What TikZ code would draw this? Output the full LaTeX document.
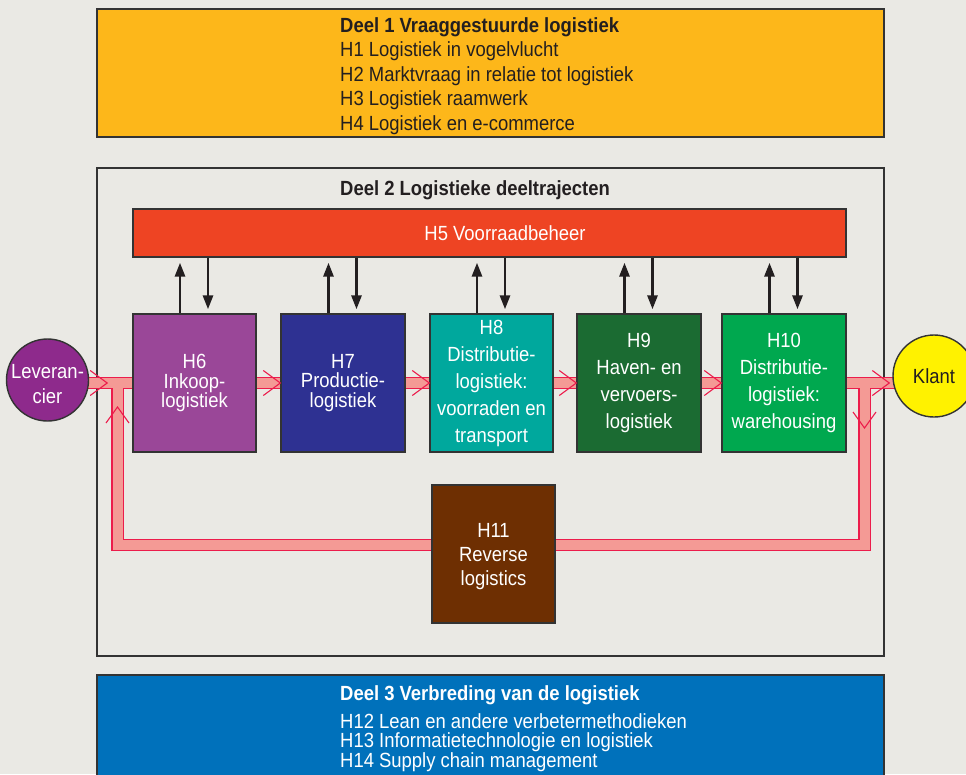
\documentclass[tikz,border=0pt]{standalone}
\usepackage{fontspec}
\setmainfont{Liberation Sans}[FakeStretch=0.9]
\usetikzlibrary{arrows.meta,calc}

\definecolor{paper}{HTML}{EAE9E4}
\definecolor{edge}{HTML}{333333}
\definecolor{ink}{HTML}{231F20}
\definecolor{deeleen}{HTML}{FDB71A}
\definecolor{deeldrie}{HTML}{0071BB}
\definecolor{voorraad}{HTML}{EE4423}
\definecolor{inkoop}{HTML}{9A4798}
\definecolor{productie}{HTML}{2E3192}
\definecolor{distri}{HTML}{00A89D}
\definecolor{haven}{HTML}{1B6B32}
\definecolor{warehouse}{HTML}{00A84F}
\definecolor{reverse}{HTML}{6E2F02}
\definecolor{lever}{HTML}{8E2A8C}
\definecolor{klantgeel}{HTML}{FFF200}
\definecolor{bandred}{HTML}{EC1C4B}
\definecolor{bandpink}{HTML}{F49A95}

\begin{document}
\begin{tikzpicture}[x=1pt,y=-1pt,
  panel/.style={draw=edge,line width=1.4pt,inner sep=0pt},
  chap/.style={panel,minimum height=138,text=white,align=center},
  party/.style={circle,draw=edge,line width=1.4pt,minimum size=82,inner sep=0pt,
    font=\fontsize{20.5}{25}\selectfont},
  link/.style={draw=ink,line width=2.8pt,-{Triangle[length=14,width=10]}},
  chev/.style={draw=bandred,line width=1.1pt},
  chevR/.pic={\draw[chev] (-17,-12.5) -- (0,0) -- (-17,12.5);},
  chevD/.pic={\draw[chev] (-11.5,-16) -- (0,0) -- (11.5,-16);},
  chevU/.pic={\draw[chev] (-11.5,16) -- (0,0) -- (11.5,16);},
]
\useasboundingbox (0,0) rectangle (966,774);
\fill[paper] (0,0) rectangle (966,774);

% Deel 1
\node[panel,fill=deeleen,minimum width=787,minimum height=128] (deel1) at (490.5,73) {};
\node[anchor=north west,inner sep=0pt,align=left,text=ink,font=\fontsize{20.5}{24.5}\selectfont]
  (deel1txt) at (340,17.3)
  {\textbf{Deel 1 Vraaggestuurde logistiek}\\H1 Logistiek in vogelvlucht\\
   H2 Marktvraag in relatie tot logistiek\\H3 Logistiek raamwerk\\H4 Logistiek en e-commerce};

% Deel 2 frame
\node[panel,fill=paper,minimum width=787,minimum height=488] (deel2) at (490.5,412) {};
\node[anchor=base west,inner sep=0pt,text=ink,font=\fontsize{20.5}{24.5}\selectfont\bfseries]
  (deel2txt) at (340,195.3) {Deel 2 Logistieke deeltrajecten};

% Deel 3
\node[panel,fill=deeldrie,minimum width=787,minimum height=115] (deel3) at (490.5,732.5) {};
\node[anchor=north west,inner sep=0pt,align=left,text=white,font=\fontsize{20.5}{19}\selectfont]
  (deel3txt) at (340,685.3)
  {\textbf{Deel 3 Verbreding van de logistiek}\\[8pt]H12 Lean en andere verbetermethodieken\\
   H13 Informatietechnologie en logistiek\\H14 Supply chain management};

% Goods flow band and return loop (red rim first, pink core on top)
\coordinate (retR) at (864.5,383);
\coordinate (retL) at (117.5,383);
\coordinate (retB) at (490,545);
\coordinate (levc) at (47.5,380);
\coordinate (klantc) at (934,376);
\foreach \c/\w in {bandred/12.5,bandpink/10}{
  \draw[\c,line width=\w] (levc |- retR) -- (klantc |- retR);
  \draw[\c,line width=\w,line join=miter] (retR) |- (retB) -| (retL);
}

% Parties at both ends of the chain
\node[party,fill=lever,text=white] (lev) at (levc)
  {\raisebox{-11pt}[0pt][0pt]{\begin{tabular}{@{}c@{}}Leveran-\\cier\end{tabular}}};
\node[party,fill=klantgeel,text=ink] (klant) at (klantc) {Klant};

% Inventory management bar
\node[panel,fill=voorraad,minimum width=713,minimum height=48] (h5) at (489.5,233) {};
\node[text=white,inner sep=0pt,font=\fontsize{20.5}{24}\selectfont] (h5txt) at (505,233) {H5 Voorraadbeheer};

% Chapter boxes along the chain
\node[chap,fill=inkoop,minimum width=123,font=\fontsize{20.5}{19.5}\selectfont] (h6) at (194.5,383)
  {H6\\Inkoop-\\logistiek};
\node[chap,fill=productie,minimum width=124,font=\fontsize{20.5}{19.5}\selectfont] (h7) at (343,383)
  {H7\\Productie-\\logistiek};
\node[chap,fill=distri,minimum width=123,font=\fontsize{20.5}{27}\selectfont] (h8) at (491.5,383)
  {H8\\Distributie-\\logistiek:\\voorraden en\\transport};
\node[chap,fill=haven,minimum width=124,font=\fontsize{20.5}{27}\selectfont] (h9) at (639,383)
  {H9\\Haven- en\\vervoers-\\logistiek};
\node[chap,fill=warehouse,minimum width=124,font=\fontsize{20.5}{27}\selectfont] (h10) at (784,383)
  {H10\\Distributie-\\logistiek:\\warehousing};
\node[chap,fill=reverse,minimum width=123,font=\fontsize{20.5}{24}\selectfont] (h11) at (493.5,554)
  {\rule{0pt}{20pt}H11\\Reverse\\logistics};

% Exchange with inventory management
\foreach \b in {h6,h7,h8,h9,h10}{
  \draw[link,shorten >=5] ([xshift=-14.5pt]\b.north) -- ([xshift=-14.5pt]\b.north |- h5.south);
  \draw[link,shorten >=4] ([xshift=13.5pt]\b.north |- h5.south) -- ([xshift=13.5pt]\b.north);
}

% Flow direction marks
\pic at ($(lev.east |- retR)+(18,0)$) {chevR};
\foreach \b in {h7,h8,h9,h10}{ \pic at (\b.west |- retR) {chevR}; }
\pic at ($(klant.west |- retR)+(-3,0)$) {chevR};
\pic at ($(retR)+(0,45)$) {chevD};
\pic at ($(retL)+(0,24)$) {chevU};
\end{tikzpicture}
\end{document}
